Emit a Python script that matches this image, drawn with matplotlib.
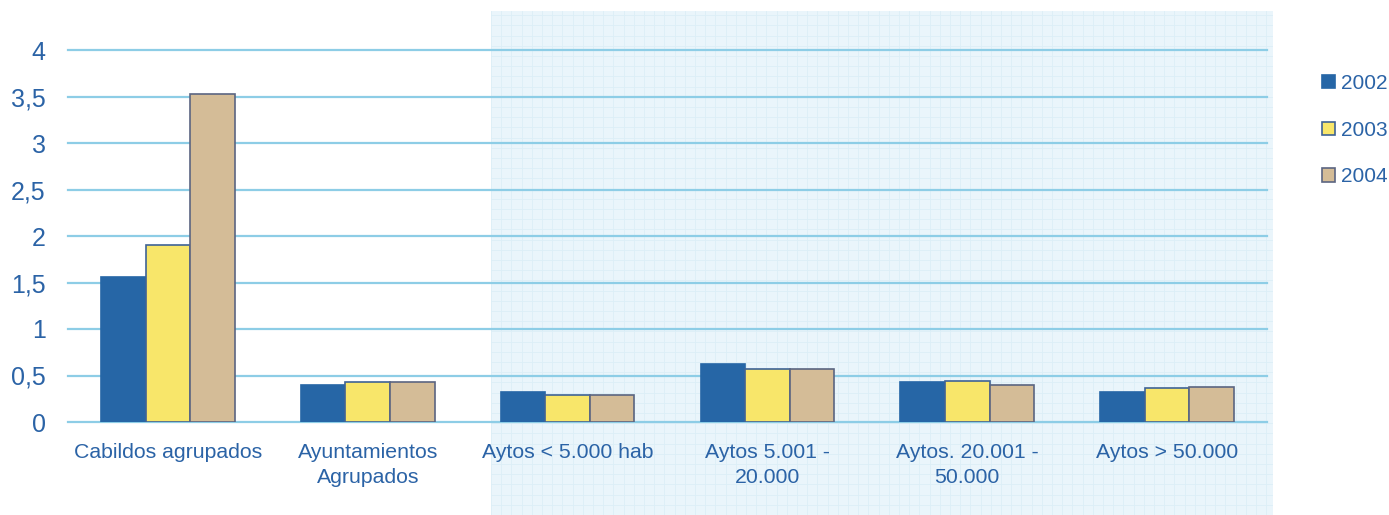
import matplotlib.pyplot as plt
import numpy as np

categorias = ['Cabildos agrupados', 'Ayuntamientos\nAgrupados', 'Aytos < 5.000 hab',
              'Aytos 5.001 -\n20.000', 'Aytos. 20.001 -\n50.000', 'Aytos > 50.000']
anios = ['2002', '2003', '2004']
v2002 = [1.56, 0.40, 0.32, 0.62, 0.43, 0.32]
v2003 = [1.90, 0.43, 0.29, 0.57, 0.44, 0.37]
v2004 = [3.53, 0.43, 0.29, 0.57, 0.40, 0.38]
yticks = [0, 0.5, 1, 1.5, 2, 2.5, 3, 3.5, 4]
ytick_labels = ['0', '0,5', '1', '1,5', '2', '2,5', '3', '3,5', '4']

plt.rcParams['font.family'] = ['Liberation Sans', 'DejaVu Sans']
txt = '#2B63A6'
fills = ['#2666A6', '#F8E66A', '#D4BC97']
edges = ['#2666A6', '#3F6396', '#5B6581']

W, H = 1389, 515
fig = plt.figure(figsize=(W / 100, H / 100), dpi=100)

# shaded background with fine grid (pixel-based)
bx0, bx1, by0, by1 = 491, 1273, 11, 515
bg = fig.add_axes([bx0 / W, 1 - by1 / H, (bx1 - bx0) / W, (by1 - by0) / H], zorder=0)
bg.set_facecolor('#EAF5FB')
bg.set_xlim(0, bx1 - bx0)
bg.set_ylim(0, by1 - by0)
for gx in np.arange(0, bx1 - bx0, 10.2):
    bg.axvline(gx, color='#DCEEF7', lw=0.6)
for gy in np.arange(0, by1 - by0, 10.2):
    bg.axhline(gy, color='#DCEEF7', lw=0.6)
bg.set_xticks([])
bg.set_yticks([])
for s in bg.spines.values():
    s.set_visible(False)

# main axes
x0, x1, y0, y1 = 68, 1267, 422, 50
ax = fig.add_axes([x0 / W, 1 - y0 / H, (x1 - x0) / W, (y0 - y1) / H], zorder=1)
ax.patch.set_alpha(0)
ax.set_xlim(-0.5, len(categorias) - 0.5)
ax.set_ylim(0, 4)

for t in yticks:
    ax.axhline(t, color='#8DCDE6', lw=1.6, zorder=1, clip_on=False)

x = np.arange(len(categorias))
bw = 0.223
for i, (vals, lab) in enumerate(zip([v2002, v2003, v2004], anios)):
    ax.bar(x + (i - 1) * bw, vals, bw, color=fills[i], edgecolor=edges[i],
           linewidth=1.2, label=lab, zorder=3)

ax.set_yticks(yticks)
ax.set_yticklabels(ytick_labels, fontsize=18, color=txt)
ax.set_xticks(x)
ax.set_xticklabels(categorias, fontsize=15.3, color=txt, linespacing=1.38, va='top')
ax.tick_params(axis='both', length=0)
ax.tick_params(axis='y', pad=16)
ax.tick_params(axis='x', pad=15)
for s in ax.spines.values():
    s.set_visible(False)

leg = fig.legend(loc='upper left', bbox_to_anchor=(1322 / W, 1 - 74 / H), frameon=False,
                 fontsize=15, handlelength=0.6, handleheight=0.6, handletextpad=0.33,
                 labelspacing=1.33, borderpad=0, borderaxespad=0)
for t in leg.get_texts():
    t.set_color(txt)

fig.savefig('out.png', dpi=100)
